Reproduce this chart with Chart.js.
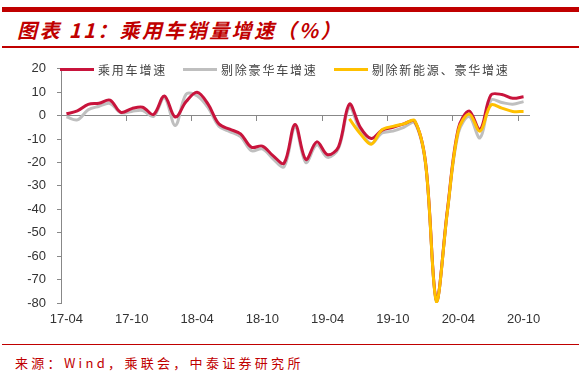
<!DOCTYPE html>
<html>
<head>
<meta charset="utf-8">
<script src="https://cdn.jsdelivr.net/npm/chart.js@4.4.1/dist/chart.umd.min.js"></script>
<style>
	body { margin: 0; background: #fff; }
	#wrap { position: relative; width: 581px; height: 375px; overflow: hidden; font-family: "Noto Sans CJK SC", sans-serif; }
	.bar-top { position: absolute; left: 2px; top: 7px; width: 577px; height: 5px; background: #c00000; }
	.title { position: absolute; left: 17px; top: 16px; font-size: 20px; line-height: 28px; font-weight: bold; font-style: italic; color: #c00000; letter-spacing: 2.4px; white-space: nowrap; }
	.rule { position: absolute; left: 2px; top: 46px; width: 577px; height: 1.5px; background: #c00000; }
	.plot { position: absolute; left: 0; top: 50px; width: 581px; height: 290px; }
	#legend { position: absolute; left: 60px; top: 61px; height: 16px; display: flex; align-items: center; font-size: 12px; color: #404040; letter-spacing: 1.8px; white-space: nowrap; }
	#legend .item { display: flex; align-items: center; margin-right: 16px; }
	#legend .swatch { width: 34px; height: 3px; margin-right: 4px; }
	.rule-bottom { position: absolute; left: 2px; top: 344px; width: 577px; height: 1px; background: #c00000; }
	.source { position: absolute; left: 15px; top: 354px; font-size: 13px; line-height: 18px; color: #c00000; letter-spacing: 3.3px; white-space: nowrap; }
</style>
</head>
<body>
<div id="wrap">
	<div class="bar-top"></div>
	<div class="title">图表 11：乘用车销量增速（%）</div>
	<div class="rule"></div>
	<div class="plot"><canvas id="chart" width="581" height="290"></canvas></div>
	<div id="legend"></div>
	<div class="rule-bottom"></div>
	<div class="source">来源：Wind，乘联会，中泰证券研究所</div>
</div>
<script>
// months shown on the x axis, one point per month
let months = ["17-04", "17-05", "17-06", "17-07", "17-08", "17-09", "17-10", "17-11", "17-12",
	"18-01", "18-02", "18-03", "18-04", "18-05", "18-06", "18-07", "18-08", "18-09", "18-10", "18-11", "18-12",
	"19-01", "19-02", "19-03", "19-04", "19-05", "19-06", "19-07", "19-08", "19-09", "19-10", "19-11", "19-12",
	"20-01", "20-02", "20-03", "20-04", "20-05", "20-06", "20-07", "20-08", "20-09", "20-10"];

let seriesNames = ["乘用车增速", "剔除豪华车增速", "剔除新能源、豪华增速"];
let seriesColors = ["#c8143c", "#bfbfbf", "#ffc000"];

let totalGrowth = [0.8, 2.0, 4.8, 5.3, 6.6, 1.4, 3.0, 3.6, 0.5,
	8.4, -0.6, 6.0, 10.0, 5.0, -3.5, -5.8, -7.8, -13.5, -13.0, -17.2, -20.3,
	-3.8, -18.7, -11.2, -16.7, -13.3, 4.9, -5.0, -9.8, -6.2, -5.0, -3.5, -2.4,
	-20.2, -79.0, -40.4, -5.6, 2.0, -6.0, 8.8, 9.0, 7.4, 8.1];

let exLuxuryGrowth = [-0.5, -1.8, 2.5, 4.0, 5.2, 1.2, 1.8, 2.2, -0.3,
	7.7, -4.2, 9.2, 8.5, 3.5, -4.5, -6.8, -9.0, -15.0, -14.2, -18.5, -21.8,
	-5.0, -20.0, -12.5, -17.8, -14.0, 3.5, -6.5, -11.9, -7.4, -6.6, -5.0, -3.0,
	-21.0, -79.5, -41.0, -7.5, -0.4, -9.5, 6.6, 5.6, 4.9, 6.0];

let exNevLuxuryGrowth = [null, null, null, null, null, null, null, null, null,
	null, null, null, null, null, null, null, null, null, null, null, null,
	null, null, null, null, null, -1.4, -7.7, -12.2, -6.0, -4.6, -3.5, -2.2,
	-20.5, -79.5, -41.0, -6.5, 0.7, -6.6, 4.5, 3.2, 1.8, 1.8];

let yMin = -80;
let yMax = 20;
let yStep = 10;
let labelEvery = 6;


function buildLegend() {

	let legend = document.getElementById("legend");

	for (let i = 0; i < seriesNames.length; i++) {
		let item = document.createElement("div");
		item.className = "item";
		let swatch = document.createElement("span");
		swatch.className = "swatch";
		swatch.style.background = seriesColors[i];
		item.appendChild(swatch);
		item.appendChild(document.createTextNode(seriesNames[i]));
		legend.appendChild(item);
	}

}


let axisGray = "#888888";
let tickFont = { family: "'Liberation Sans', Arial, sans-serif", size: 13 };

let chart = new Chart(document.getElementById("chart"), {
	type: "line",
	data: {
		labels: months,
		datasets: [
			{ label: seriesNames[0], data: totalGrowth, borderColor: seriesColors[0], backgroundColor: seriesColors[0], order: 1 },
			{ label: seriesNames[1], data: exLuxuryGrowth, borderColor: seriesColors[1], backgroundColor: seriesColors[1], order: 2 },
			{ label: seriesNames[2], data: exNevLuxuryGrowth, borderColor: seriesColors[2], backgroundColor: seriesColors[2], order: 0 }
		]
	},
	options: {
		responsive: false,
		animation: false,
		devicePixelRatio: 1,
		layout: { padding: { top: 16, right: 52, left: 0, bottom: 0 } },
		elements: {
			line: { borderWidth: 3, tension: 0.35, fill: false },
			point: { radius: 0 }
		},
		plugins: {
			legend: { display: false },
			tooltip: { enabled: false }
		},
		scales: {
			x: {
				offset: true,
				grid: { display: false, drawTicks: false },
				border: { display: false },
				ticks: {
					autoSkip: false,
					maxRotation: 0,
					minRotation: 0,
					padding: 9,
					color: "#333",
					font: tickFont,
					callback: function (value, index) {
						return index % labelEvery === 0 ? this.getLabelForValue(value) : "";
					}
				},
				afterFit: function (scale) { scale.height = 37; }
			},
			// axis line drawn through zero, with tick marks every six months
			x2: {
				type: "category",
				axis: "x",
				position: { y: 0 },
				offset: true,
				grid: {
					offset: true,
					drawOnChartArea: false,
					tickLength: 5,
					tickColor: (ctx) => ctx.index % labelEvery === 0 ? axisGray : "rgba(0,0,0,0)"
				},
				border: { color: axisGray, width: 1 },
				ticks: { display: false, autoSkip: false }
			},
			y: {
				min: yMin,
				max: yMax,
				ticks: { stepSize: yStep, padding: 11, color: "#333", font: tickFont },
				grid: { drawOnChartArea: false, tickLength: 4, tickColor: axisGray },
				border: { color: axisGray, width: 1 },
				afterFit: function (scale) { scale.width = 61; }
			}
		}
	}
});

buildLegend();
</script>
</body>
</html>
